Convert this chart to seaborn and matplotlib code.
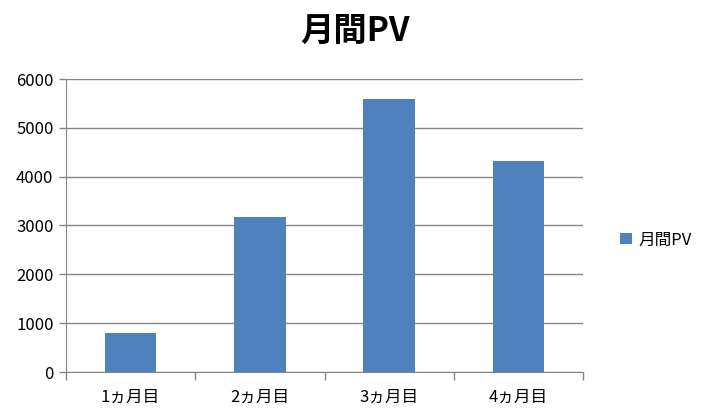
import matplotlib
matplotlib.use("Agg")
import matplotlib.pyplot as plt
import seaborn as sns
import pandas as pd

# data
months = ["1ヵ月目", "2ヵ月目", "3ヵ月目", "4ヵ月目"]
pv = [800, 3170, 5590, 4320]
series_name = "月間PV"

df = pd.DataFrame({"month": months, "pv": pv})

sns.set_style("white")
plt.rcParams["font.family"] = ["Noto Sans CJK JP", "DejaVu Sans"]
plt.rcParams["text.color"] = "black"
plt.rcParams["xtick.color"] = "black"
plt.rcParams["ytick.color"] = "black"

fig = plt.figure(figsize=(7.1, 4.19), dpi=100)
ax = fig.add_axes([66 / 710, 1 - 372 / 419, (583 - 66) / 710, (372 - 79) / 419])

sns.barplot(data=df, x="month", y="pv", color="#4F81BD", width=0.4,
            saturation=1, linewidth=0, label=series_name, ax=ax)

ax.set_ylim(0, 6000)
ax.set_xlim(-0.5, 3.5)
ax.set_yticks(range(0, 6001, 1000))
ax.yaxis.grid(True, color="#868686", linewidth=1)
ax.set_axisbelow(True)
ax.set_xlabel("")
ax.set_ylabel("")

for s in ["top", "right"]:
    ax.spines[s].set_visible(False)
ax.spines["left"].set_color("#868686")
ax.spines["bottom"].set_color("#868686")

# tick marks between the categories
ax.set_xticks([-0.5, 0.5, 1.5, 2.5, 3.5], minor=True)
ax.tick_params(axis="x", which="major", length=0, pad=12, labelsize=12)
ax.tick_params(axis="x", which="minor", length=6, color="#868686", width=1, bottom=True)
ax.tick_params(axis="y", length=5, color="#868686", width=1, labelsize=12, pad=4, left=True)

fig.text(0.5, 0.925, series_name, ha="center", va="center",
         fontsize=24, fontweight="bold")

handles, labels = ax.get_legend_handles_labels()
if ax.get_legend() is not None:
    ax.get_legend().remove()
fig.legend(handles, labels, loc="center left", bbox_to_anchor=(605 / 710, 1 - 240 / 419),
           frameon=False, fontsize=12, handlelength=0.7, handleheight=0.7,
           handletextpad=0.4)

fig.savefig("out.png", dpi=100)
